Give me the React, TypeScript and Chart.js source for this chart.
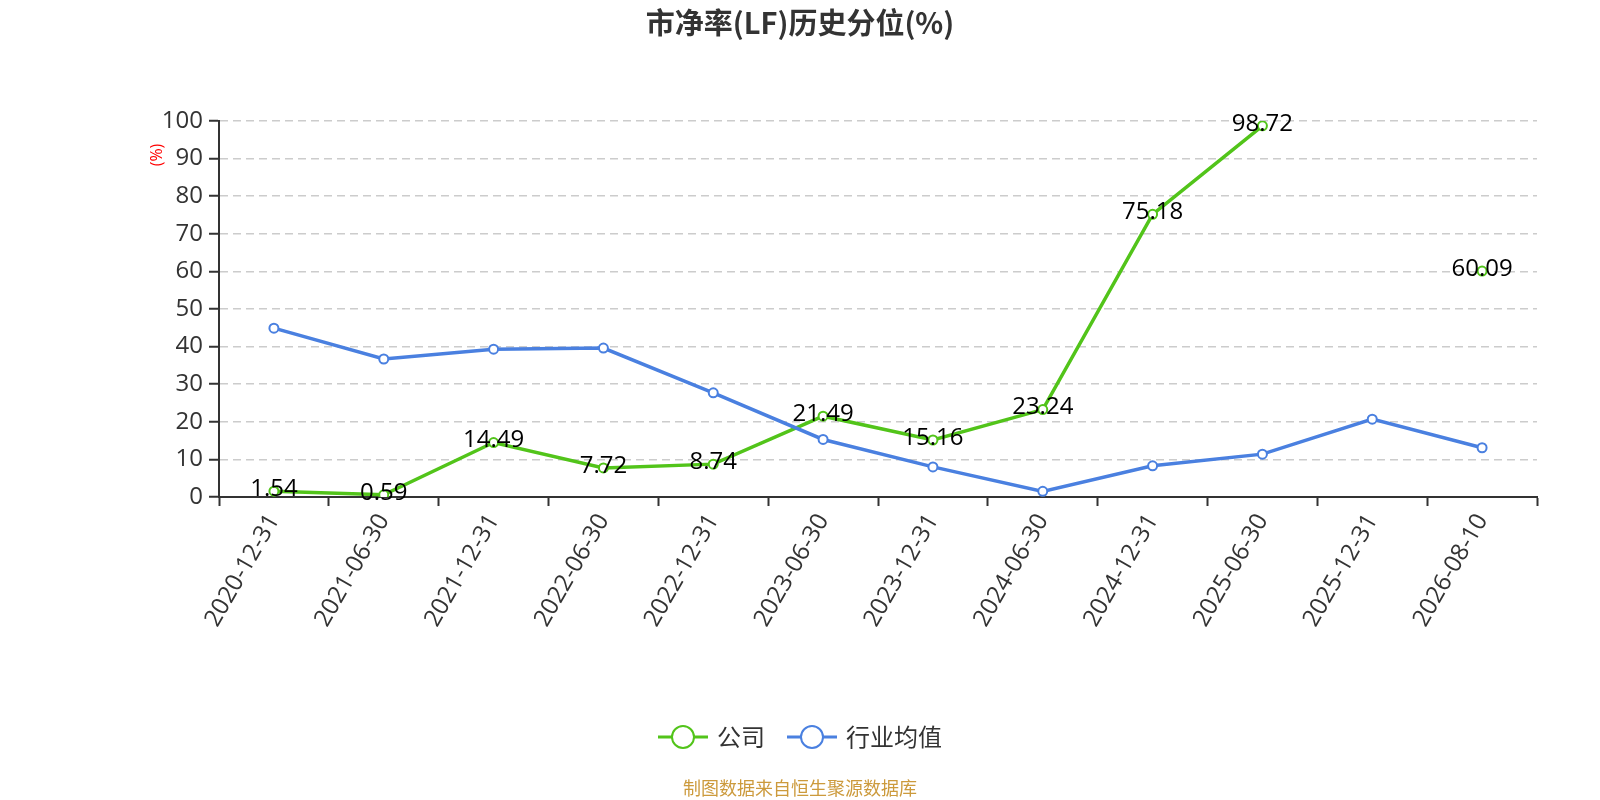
import { useEffect, useRef } from 'react'
import Chart from 'chart.js/auto'

const categories = [
  '2020-12-31', '2021-06-30', '2021-12-31', '2022-06-30', '2022-12-31', '2023-06-30',
  '2023-12-31', '2024-06-30', '2024-12-31', '2025-06-30', '2025-12-31', '2026-08-10',
]
const companyValues = [1.54, 0.59, 14.49, 7.72, 8.74, 21.49, 15.16, 23.24, 75.18, 98.72, null, 60.09]
const industryValues = [44.9, 36.7, 39.3, 39.6, 27.7, 15.3, 8.0, 1.5, 8.3, 11.4, 20.7, 13.1]
const seriesNames = ['公司', '行业均值']
const seriesColors = ['#52c41a', '#4a80e0']

const titleText = '市净率(LF)历史分位(%)'
const yAxisName = '(%)'
const footerText = '制图数据来自恒生聚源数据库'

const FONT = "'Open Sans', 'Noto Sans CJK SC', sans-serif"
const CJK = "'Noto Sans CJK SC', sans-serif"

// titles, axis name, legend, footer and value labels
const decorations = {
  id: 'decorations',
  afterDatasetsDraw(chart: any) {
    const { ctx } = chart
    const meta = chart.getDatasetMeta(0)
    ctx.save()
    ctx.font = `24px ${FONT}`
    ctx.fillStyle = '#000'
    ctx.textAlign = 'center'
    ctx.textBaseline = 'middle'
    meta.data.forEach((pt: any, i: number) => {
      const v = companyValues[i]
      if (v == null) return
      ctx.fillText(v.toFixed(2), pt.x, pt.y - 2)
    })
    ctx.restore()
  },
  afterDraw(chart: any) {
    const { ctx } = chart
    ctx.save()
    ctx.textBaseline = 'middle'

    ctx.font = `bold 29px ${CJK}`
    ctx.fillStyle = '#333'
    ctx.textAlign = 'center'
    ctx.fillText(titleText, 800, 23)

    ctx.save()
    ctx.translate(157, 155)
    ctx.rotate(-Math.PI / 2)
    ctx.font = `16px ${FONT}`
    ctx.fillStyle = '#ff0000'
    ctx.fillText(yAxisName, 0, 0)
    ctx.restore()

    const items = [
      { x: 658, text: seriesNames[0], color: seriesColors[0] },
      { x: 787, text: seriesNames[1], color: seriesColors[1] },
    ]
    const ly = 737
    items.forEach((it) => {
      ctx.strokeStyle = it.color
      ctx.lineWidth = 3
      ctx.beginPath()
      ctx.moveTo(it.x, ly)
      ctx.lineTo(it.x + 50, ly)
      ctx.stroke()
      ctx.beginPath()
      ctx.arc(it.x + 25, ly, 11, 0, Math.PI * 2)
      ctx.fillStyle = '#fff'
      ctx.fill()
      ctx.lineWidth = 2
      ctx.stroke()
      ctx.font = `24px ${CJK}`
      ctx.fillStyle = '#333'
      ctx.textAlign = 'left'
      ctx.fillText(it.text, it.x + 59, ly)
    })

    ctx.font = `18px ${CJK}`
    ctx.fillStyle = '#cc9a3c'
    ctx.textAlign = 'center'
    ctx.fillText(footerText, 800, 788)
    ctx.restore()
  },
}

export default function App() {
  const canvasRef = useRef<HTMLCanvasElement | null>(null)
  const chartRef = useRef<Chart | null>(null)

  useEffect(() => {
    document.body.style.margin = '0'
    if (!canvasRef.current) return

    chartRef.current = new Chart(canvasRef.current, {
      type: 'line',
      data: {
        labels: categories,
        datasets: [
          {
            label: seriesNames[0],
            data: companyValues,
            borderColor: seriesColors[0],
            backgroundColor: '#fff',
            borderWidth: 3.5,
            pointRadius: 4.5,
            pointBorderWidth: 2,
            pointBackgroundColor: '#fff',
            pointBorderColor: seriesColors[0],
            tension: 0,
            spanGaps: false,
            order: 1,
          },
          {
            label: seriesNames[1],
            data: industryValues,
            borderColor: seriesColors[1],
            backgroundColor: '#fff',
            borderWidth: 3.5,
            pointRadius: 4.5,
            pointBorderWidth: 2,
            pointBackgroundColor: '#fff',
            pointBorderColor: seriesColors[1],
            tension: 0,
            order: 0,
          },
        ],
      },
      options: {
        responsive: false,
        animation: false,
        devicePixelRatio: 1,
        layout: { padding: { left: 0, top: 121, right: 63, bottom: 0 } },
        plugins: {
          legend: { display: false },
          title: { display: false },
          tooltip: { enabled: false },
        },
        scales: {
          x: {
            type: 'category',
            offset: true,
            afterFit: (scale: any) => {
              scale.height = 303
            },
            grid: {
              display: true,
              offset: true,
              drawOnChartArea: false,
              drawTicks: true,
              tickLength: 9,
              tickColor: '#333',
              tickWidth: 2,
            },
            border: { display: true, color: '#333', width: 2 },
            ticks: {
              autoSkip: false,
              minRotation: 60,
              maxRotation: 60,
              padding: 3,
              color: '#333',
              font: { family: FONT, size: 24 },
            },
          },
          y: {
            min: 0,
            max: 100,
            afterFit: (scale: any) => {
              scale.width = 219
            },
            grid: {
              color: '#cccccc',
              lineWidth: 1.5,
              drawTicks: true,
              tickLength: 10,
              tickColor: '#333',
              tickWidth: 2,
              tickBorderDash: [],
            },
            border: { display: true, color: '#333', width: 2, dash: [8, 5] },
            ticks: {
              stepSize: 10,
              padding: 6,
              color: '#333',
              font: { family: FONT, size: 24 },
            },
          },
        },
      },
      plugins: [decorations],
    })

    return () => {
      if (chartRef.current) {
        chartRef.current.destroy()
        chartRef.current = null
      }
    }
  }, [])

  return (
    <div style={{ width: 1600, height: 800, background: '#fff' }}>
      <canvas ref={canvasRef} width={1600} height={800} />
    </div>
  )
}
